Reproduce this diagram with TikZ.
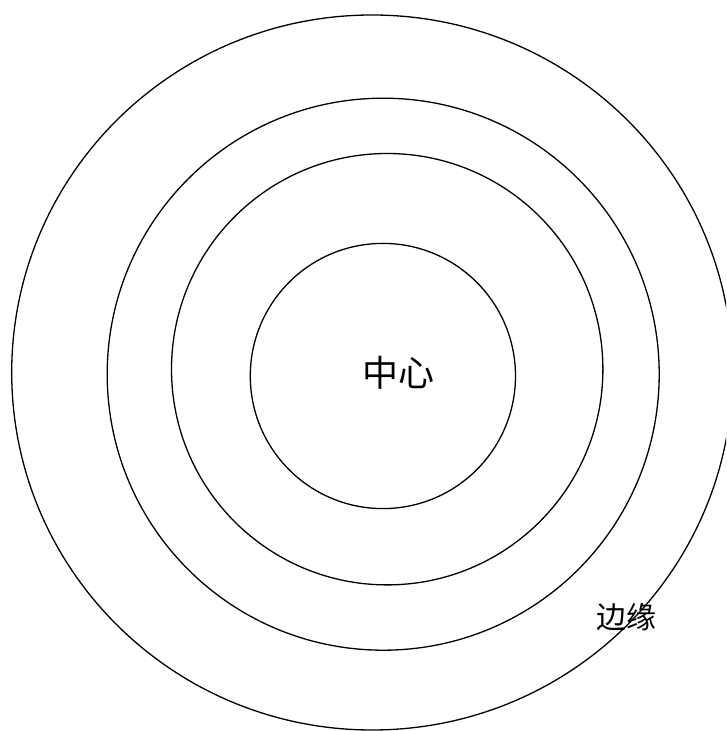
\documentclass[tikz,border=0pt]{standalone}
\usepackage{fontspec}
\newfontfamily\cjk{Noto Sans CJK SC}
\begin{document}
\begin{tikzpicture}[x=1pt,y=1pt,
  ring/.style={draw=black,line width=1.3pt},
  lbl/.style={inner sep=0pt,font=\cjk}]
\useasboundingbox (0,0) rectangle (726,731);
\clip (0,0) rectangle (726,731);
\coordinate (c1) at (372.1,358.5);
\coordinate (c2) at (383.2,356.8);
\coordinate (c3) at (387.2,361.8);
\coordinate (c4) at (382.9,355);
\draw[ring] (c1) ellipse [x radius=360.4, y radius=357.5];
\draw[ring] (c2) circle [radius=276];
\draw[ring] (c3) circle [radius=215.7];
\draw[ring] (c4) circle [radius=132.6];
\node[lbl,font=\cjk\fontsize{36}{40}\selectfont] (center) at (398,358.5) {中心};
\node[lbl,font=\cjk\fontsize{30}{34}\selectfont] (edge) at (626,113.5) {边缘};
\end{tikzpicture}
\end{document}
